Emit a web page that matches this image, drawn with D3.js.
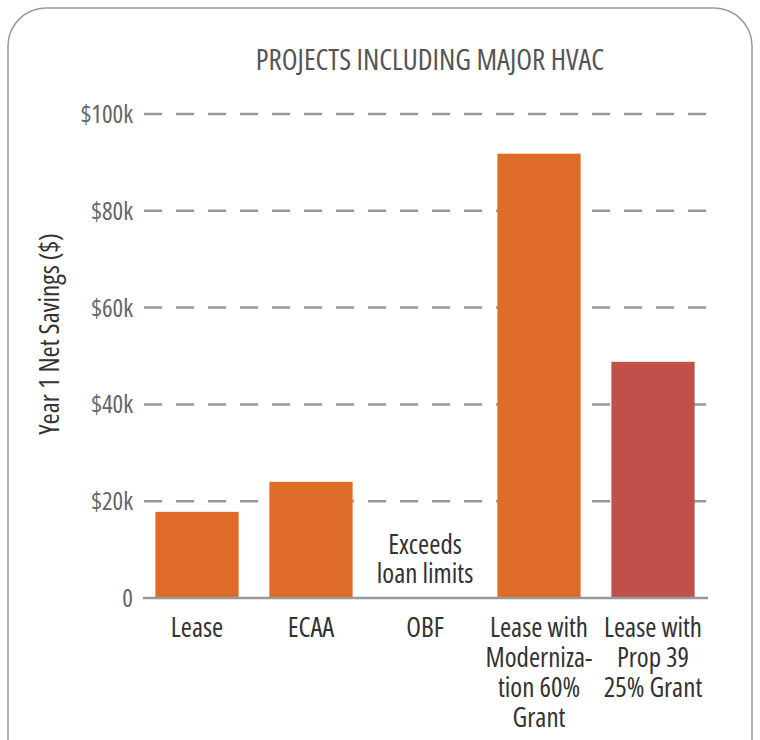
<!DOCTYPE html>
<html>
<head>
<meta charset="utf-8">
<script src="https://cdn.jsdelivr.net/npm/d3@7"></script>
<style>
  body { margin: 0; background: #fff; }
  svg text { font-family: "Open Sans", sans-serif; font-stretch: condensed; }
</style>
</head>
<body>
<svg id="chart" width="760" height="740"></svg>
<script>
// chart data
var categories = ["Lease", "ECAA", "OBF", "Lease with Moderniza-tion 60% Grant", "Lease with Prop 39 25% Grant"];
var labelLines = [["Lease"], ["ECAA"], ["OBF"], ["Lease with", "Moderniza-", "tion 60%", "Grant"], ["Lease with", "Prop 39", "25% Grant"]];
var savings = [17800, 24000, null, 91800, 48800];
var barColors = ["#de6b28", "#de6b28", "#de6b28", "#de6b28", "#bf504a"];
var yTicks = [0, 20000, 40000, 60000, 80000, 100000];
var yTickLabels = ["0", "$20k", "$40k", "$60k", "$80k", "$100k"];

var svg = d3.select("#chart");

// card outline
svg.append("rect")
  .attr("x", 8).attr("y", 8)
  .attr("width", 744).attr("height", 780)
  .attr("rx", 38)
  .style("fill", "none")
  .style("stroke", "#9a9a9a")
  .style("stroke-width", 1.5);

// title
svg.append("text")
  .attr("x", 430).attr("y", 70)
  .attr("text-anchor", "middle")
  .style("font-size", "29px")
  .style("fill", "#555")
  .text("PROJECTS INCLUDING MAJOR HVAC");

var x = d3.scaleBand()
  .domain(categories)
  .range([140, 710])
  .paddingInner(0.27)
  .paddingOuter(0.135);

var y = d3.scaleLinear()
  .domain([0, 100000])
  .range([598, 114]);

// dashed gridlines (not the zero one)
svg.selectAll(".grid")
  .data(yTicks.slice(1))
  .enter().append("line")
  .attr("class", "grid")
  .attr("x1", 144).attr("x2", 708)
  .attr("y1", function(d) { return y(d); })
  .attr("y2", function(d) { return y(d); })
  .style("stroke", "#999")
  .style("stroke-width", 2.5)
  .style("stroke-dasharray", "18,14");

// tick labels
svg.selectAll(".ytick")
  .data(yTicks)
  .enter().append("text")
  .attr("class", "ytick")
  .attr("x", 133)
  .attr("y", function(d) { return y(d) + 9; })
  .attr("text-anchor", "end")
  .style("font-size", "25px")
  .style("fill", "#666")
  .text(function(d, i) { return yTickLabels[i]; });

// bars
svg.selectAll(".bar")
  .data(categories.filter(function(c, i) { return savings[i] != null; }))
  .enter().append("rect")
  .attr("class", "bar")
  .attr("x", function(d) { return x(d); })
  .attr("width", x.bandwidth())
  .attr("y", function(d) { return y(savings[categories.indexOf(d)]); })
  .attr("height", function(d) { return y(0) - y(savings[categories.indexOf(d)]); })
  .style("fill", function(d) { return barColors[categories.indexOf(d)]; });

// zero baseline
svg.append("line")
  .attr("x1", 143).attr("x2", 708)
  .attr("y1", y(0)).attr("y2", y(0))
  .style("stroke", "#999")
  .style("stroke-width", 2.5);

// category labels
var lab = svg.selectAll(".xlab")
  .data(categories)
  .enter().append("text")
  .attr("class", "xlab")
  .attr("text-anchor", "middle")
  .style("font-size", "27px")
  .style("fill", "#333");

lab.each(function(d, i) {
  var t = d3.select(this);
  labelLines[i].forEach(function(line, j) {
    t.append("tspan")
      .attr("x", x(d) + x.bandwidth() / 2)
      .attr("y", 637 + j * 30)
      .text(line);
  });
});

// note for OBF
var note = svg.append("text")
  .attr("text-anchor", "middle")
  .style("font-size", "27px")
  .style("fill", "#333");
["Exceeds", "loan limits"].forEach(function(line, j) {
  note.append("tspan")
    .attr("x", x("OBF") + x.bandwidth() / 2)
    .attr("y", 554 + j * 29)
    .text(line);
});

// y axis title
svg.append("text")
  .attr("transform", "translate(59,334) rotate(-90)")
  .attr("text-anchor", "middle")
  .style("font-size", "27px")
  .style("fill", "#333")
  .text("Year 1 Net Savings ($)");
</script>
</body>
</html>
